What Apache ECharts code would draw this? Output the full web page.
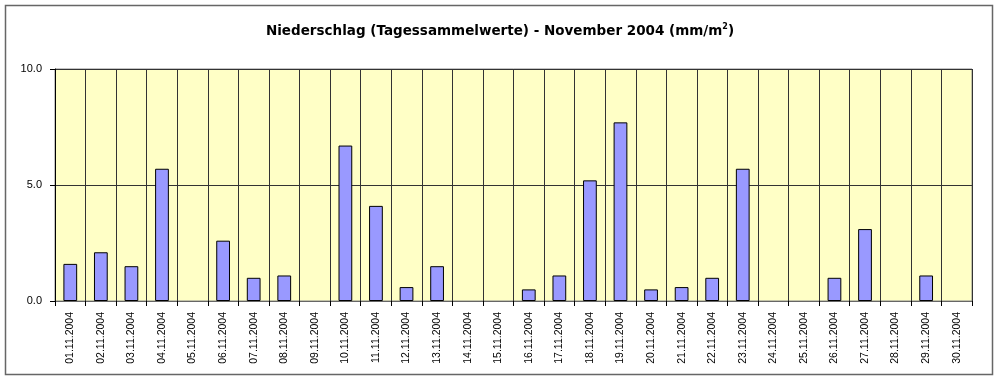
<!DOCTYPE html>
<html>
<head>
<meta charset="utf-8">
<script src="https://cdn.jsdelivr.net/npm/echarts@6/dist/echarts.min.js"></script>
<style>html,body{margin:0;padding:0;background:#fff;}#c{width:1000px;height:382px;}</style>
</head>
<body>
<div id="c"></div>
<script>
const categories = ["01.11.2004","02.11.2004","03.11.2004","04.11.2004","05.11.2004","06.11.2004","07.11.2004","08.11.2004","09.11.2004","10.11.2004","11.11.2004","12.11.2004","13.11.2004","14.11.2004","15.11.2004","16.11.2004","17.11.2004","18.11.2004","19.11.2004","20.11.2004","21.11.2004","22.11.2004","23.11.2004","24.11.2004","25.11.2004","26.11.2004","27.11.2004","28.11.2004","29.11.2004","30.11.2004"];
const values = [1.6,2.1,1.5,5.7,0,2.6,1.0,1.1,0,6.7,4.1,0.6,1.5,0,0,0.5,1.1,5.2,7.7,0.5,0.6,1.0,5.7,0,0,1.0,3.1,0,1.1,0];
const yTicks = [0,5,10];

const FONT = 'Arial, "Liberation Sans", sans-serif';
const chart = echarts.init(document.getElementById('c'), null, {renderer:'canvas'});
chart.setOption({
  backgroundColor:'#fff',
  animation:false,
  title:{
    text:'{t|Niederschlag (Tagessammelwerte) - November 2004 (mm/m}{s|2}{t|)}',
    left:'center', top:18,
    textStyle:{
      rich:{
        t:{fontFamily:'"DejaVu Sans", sans-serif',fontSize:13.5,fontWeight:'bold',color:'#000'},
        s:{fontFamily:'"DejaVu Sans", sans-serif',fontSize:8,fontWeight:'bold',color:'#000',verticalAlign:'top',padding:[0,0,9,0]}
      }
    }
  },
  graphic:[{
    type:'rect', shape:{x:5.5,y:5.5,width:987,height:369},
    style:{fill:null,stroke:'#666',lineWidth:1.5}, silent:true, z:-1
  }],
  grid:{left:55,right:28,top:69,bottom:81,show:true,backgroundColor:'#FFFFC6',borderColor:'#888',borderWidth:1},
  xAxis:{
    type:'category', data:categories, boundaryGap:true,
    axisLine:{lineStyle:{color:'#666',width:1}},
    axisTick:{show:true,interval:0,length:5,lineStyle:{color:'#000'}},
    splitLine:{show:true,interval:0,lineStyle:{color:'#333',width:1}},
    axisLabel:{interval:0,rotate:90,fontSize:10.5,fontFamily:FONT,color:'#000',margin:11}
  },
  yAxis:{
    type:'value', min:0, max:10, interval:5,
    axisLine:{show:true,lineStyle:{color:'#000'}},
    axisTick:{show:true,length:5,lineStyle:{color:'#000'}},
    splitLine:{show:true,lineStyle:{color:'#333',width:1}},
    axisLabel:{fontSize:11,fontFamily:FONT,color:'#000',margin:13,
      formatter:v=>yTicks.includes(v)?v.toFixed(1):''}
  },
  series:[{
    type:'bar', data:values.map(v=>v===0?'-':v), barWidth:'45%',
    itemStyle:{color:'#9999FF',borderColor:'#000',borderWidth:1}
  }]
});
</script>
</body>
</html>
